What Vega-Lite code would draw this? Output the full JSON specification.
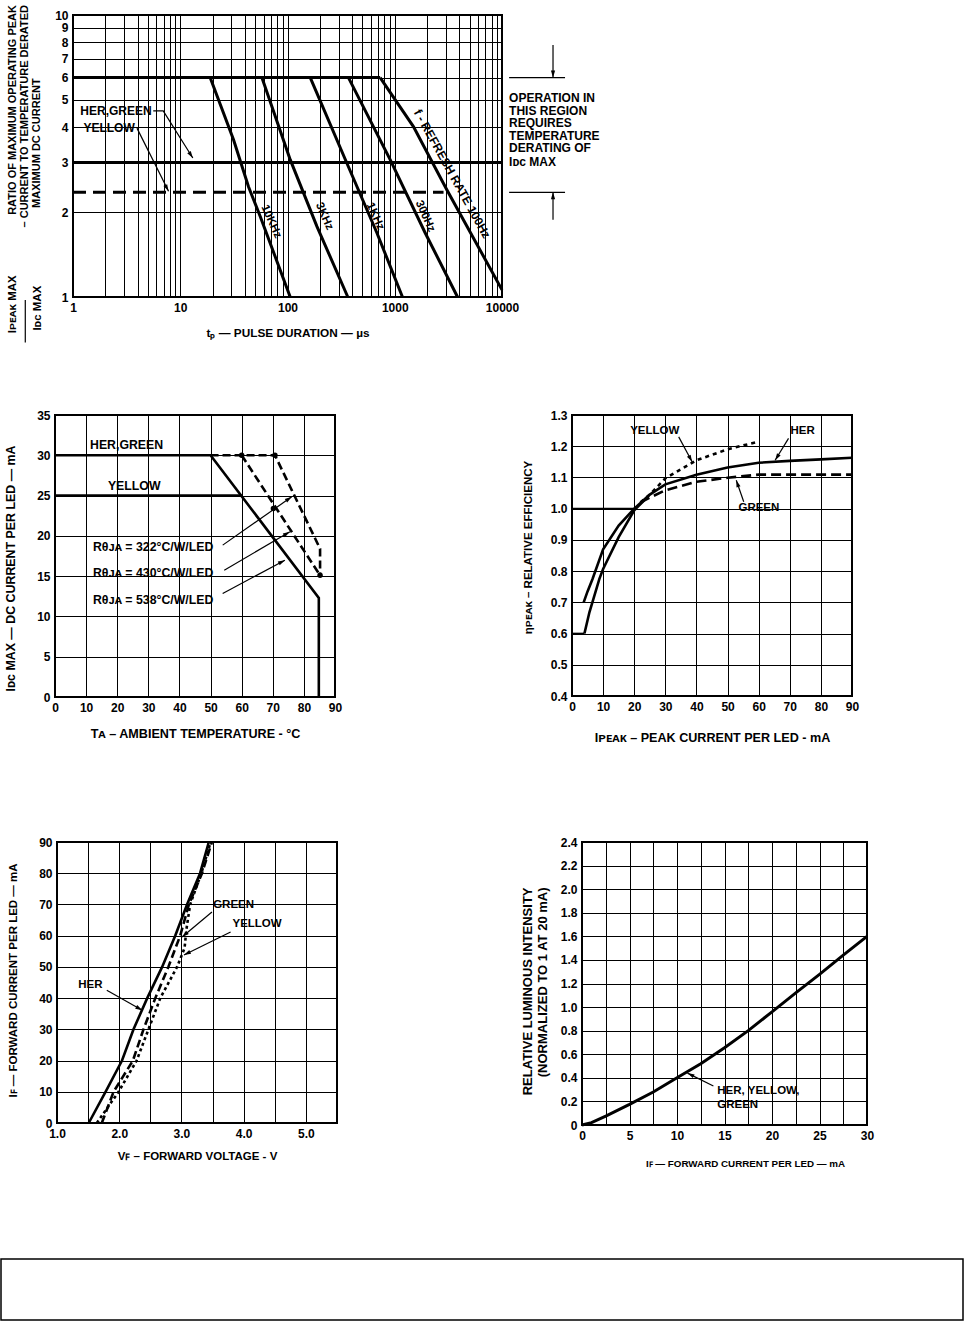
{
  "$schema": "https://vega.github.io/schema/vega-lite/v6.json",
  "background": "white",
  "padding": {"left": 0, "top": 4, "right": 0, "bottom": 0},
  "spacing": 0,
  "resolve": {"scale": {"x": "independent", "y": "independent", "shape": "independent"}},
  "datasets": {
    "top_solid": [
      {"s":"six","i":0,"x":1,"y":6},{"s":"six","i":1,"x":731,"y":6},
      {"s":"f10k","i":0,"x":19,"y":6},{"s":"f10k","i":1,"x":31.4,"y":3.61},{"s":"f10k","i":2,"x":43.3,"y":2.46},{"s":"f10k","i":3,"x":55.7,"y":1.93},{"s":"f10k","i":4,"x":106,"y":1},
      {"s":"f3k","i":0,"x":57.7,"y":6},{"s":"f3k","i":1,"x":106,"y":3.07},{"s":"f3k","i":2,"x":188,"y":1.78},{"s":"f3k","i":3,"x":365,"y":1},
      {"s":"f1k","i":0,"x":163,"y":6},{"s":"f1k","i":1,"x":358,"y":2.98},{"s":"f1k","i":2,"x":681,"y":1.69},{"s":"f1k","i":3,"x":1180,"y":1},
      {"s":"f300","i":0,"x":370,"y":6},{"s":"f300","i":1,"x":906,"y":3.07},{"s":"f300","i":2,"x":1919,"y":1.69},{"s":"f300","i":3,"x":3850,"y":1},
      {"s":"f100","i":0,"x":731,"y":6},{"s":"f100","i":1,"x":1493,"y":4.02},{"s":"f100","i":2,"x":3058,"y":2.4},{"s":"f100","i":3,"x":10000,"y":1.06},
      {"s":"hg","i":0,"x":1,"y":3},{"s":"hg","i":1,"x":10000,"y":3}
    ],
    "top_dash": [{"s":"ye","i":0,"x":1,"y":2.35},{"s":"ye","i":1,"x":2850,"y":2.35}],
    "top_ref": [{"x":11650,"x2":38700,"y":6},{"x":11650,"x2":38700,"y":2.35}],
    "top_arr": [
      {"a":"t_hg","i":0,"x":5.6,"y":4.57},{"a":"t_hg","i":1,"x":6.94,"y":4.57},{"a":"t_hg","i":2,"x":13.1,"y":3.11},
      {"a":"t_ye","i":0,"x":3.95,"y":3.97},{"a":"t_ye","i":1,"x":7.78,"y":2.37},
      {"a":"t_dn","i":0,"x":29900,"y":7.83},{"a":"t_dn","i":1,"x":29900,"y":6},
      {"a":"t_up","i":0,"x":29900,"y":1.88},{"a":"t_up","i":1,"x":29900,"y":2.35}
    ],
    "top_txt": [
      {"x":1.17,"y":4.57,"t":"HER,GREEN"},
      {"x":1.25,"y":3.98,"t":"YELLOW"},
      {"x":11650,"y":5.07,"t":"OPERATION IN"},
      {"x":11650,"y":4.57,"t":"THIS REGION"},
      {"x":11650,"y":4.15,"t":"REQUIRES"},
      {"x":11650,"y":3.73,"t":"TEMPERATURE"},
      {"x":11650,"y":3.37,"t":"DERATING OF"},
      {"x":11650,"y":3.0,"t":"Iᴅᴄ MAX"}
    ],
    "top_freq": [{"x":70.3,"y":1.85,"t":"10KHz"},{"x":220,"y":1.93,"t":"3KHz"},{"x":656,"y":1.93,"t":"1KHz"},{"x":1919,"y":1.93,"t":"300Hz"}],
    "top_rr": [{"x":3428,"y":2.734,"t":"f - REFRESH RATE 100Hz"}],
    "top_ytitle_end": [{"x":0.2778,"y":10.85,"t":"RATIO OF MAXIMUM OPERATING PEAK"},{"x":0.359,"y":10.85,"t":"– CURRENT TO TEMPERATURE DERATED"}],
    "top_ytitle_start": [{"x":0.465,"y":2.07,"t":"MAXIMUM DC CURRENT"}],
    "top_frac": [{"x":0.2778,"y":0.943,"t":"Iᴘᴇᴀᴋ MAX"},{"x":0.475,"y":0.913,"t":"Iᴅᴄ MAX"}],
    "top_bar": [{"x":0.359,"y":0.689,"y2":0.976}],
    "ml_solid": [
      {"s":"hg","i":0,"x":0,"y":30},{"s":"hg","i":1,"x":50,"y":30},{"s":"hg","i":2,"x":84.8,"y":12.3},{"s":"hg","i":3,"x":84.8,"y":0},
      {"s":"ye","i":0,"x":0,"y":25},{"s":"ye","i":1,"x":60,"y":25}
    ],
    "ml_dash": [
      {"s":"r430","i":0,"x":60,"y":30},{"s":"r430","i":1,"x":85.2,"y":15.1},
      {"s":"r322","i":0,"x":50,"y":30},{"s":"r322","i":1,"x":70.7,"y":30},{"s":"r322","i":2,"x":85.2,"y":18.4},{"s":"r322","i":3,"x":85.2,"y":15.1}
    ],
    "ml_dots": [{"x":60,"y":30},{"x":70.7,"y":30},{"x":70.2,"y":23.4},{"x":85.2,"y":15.1}],
    "ml_txt": [
      {"x":11.25,"y":31.3,"t":"HER,GREEN"},
      {"x":17,"y":26.2,"t":"YELLOW"},
      {"x":12.2,"y":18.6,"t":"Rθᴊᴀ = 322°C/W/LED"},
      {"x":12.2,"y":15.4,"t":"Rθᴊᴀ = 430°C/W/LED"},
      {"x":12.2,"y":12.0,"t":"Rθᴊᴀ = 538°C/W/LED"}
    ],
    "ml_arr": [
      {"a":"m322","i":0,"x":53.9,"y":18.85},{"a":"m322","i":1,"x":76.1,"y":24.85},
      {"a":"m430","i":0,"x":54.4,"y":15.74},{"a":"m430","i":1,"x":75.5,"y":20.5},
      {"a":"m538","i":0,"x":53.9,"y":12.84},{"a":"m538","i":1,"x":73.9,"y":16.98}
    ],
    "mr_solid": [
      {"s":"her","i":0,"x":3.75,"y":0.7},{"s":"her","i":1,"x":5,"y":0.735},{"s":"her","i":2,"x":6.6,"y":0.775},{"s":"her","i":3,"x":10,"y":0.87},{"s":"her","i":4,"x":15,"y":0.946},{"s":"her","i":5,"x":20,"y":1.0},{"s":"her","i":6,"x":25,"y":1.045},{"s":"her","i":7,"x":30,"y":1.078},{"s":"her","i":8,"x":40,"y":1.109},{"s":"her","i":9,"x":50,"y":1.132},{"s":"her","i":10,"x":60,"y":1.147},{"s":"her","i":11,"x":70,"y":1.153},{"s":"her","i":12,"x":80,"y":1.158},{"s":"her","i":13,"x":90,"y":1.163},
      {"s":"trunk","i":0,"x":4,"y":0.6},{"s":"trunk","i":1,"x":5.6,"y":0.668},{"s":"trunk","i":2,"x":8.8,"y":0.775},{"s":"trunk","i":3,"x":10,"y":0.807},{"s":"trunk","i":4,"x":15,"y":0.909},{"s":"trunk","i":5,"x":20,"y":0.995},{"s":"trunk","i":6,"x":24.6,"y":1.04}
    ],
    "mr_ref": [
      {"s":"ref1","i":0,"x":0,"y":1.0},{"s":"ref1","i":1,"x":20,"y":1.0},
      {"s":"ref06","i":0,"x":0,"y":0.6},{"s":"ref06","i":1,"x":4,"y":0.6}
    ],
    "mr_dash": [
      {"s":"green","i":0,"x":22,"y":1.02},{"s":"green","i":1,"x":25,"y":1.035},{"s":"green","i":2,"x":30,"y":1.059},{"s":"green","i":3,"x":40,"y":1.086},{"s":"green","i":4,"x":50,"y":1.099},{"s":"green","i":5,"x":60,"y":1.109},{"s":"green","i":6,"x":90,"y":1.109}
    ],
    "mr_dot": [
      {"s":"yellow","i":0,"x":22,"y":1.02},{"s":"yellow","i":1,"x":25,"y":1.045},{"s":"yellow","i":2,"x":30,"y":1.097},{"s":"yellow","i":3,"x":40,"y":1.155},{"s":"yellow","i":4,"x":50,"y":1.19},{"s":"yellow","i":5,"x":60,"y":1.215}
    ],
    "mr_txt": [{"x":18.7,"y":1.248,"t":"YELLOW"},{"x":70.2,"y":1.248,"t":"HER"},{"x":53.5,"y":1.003,"t":"GREEN"}],
    "mr_arr": [
      {"a":"r_yel","i":0,"x":34.3,"y":1.23},{"a":"r_yel","i":1,"x":38.6,"y":1.15},
      {"a":"r_her","i":0,"x":69.6,"y":1.225},{"a":"r_her","i":1,"x":65.3,"y":1.155},
      {"a":"r_grn","i":0,"x":55.2,"y":1.022},{"a":"r_grn","i":1,"x":52.8,"y":1.091}
    ],
    "bl_solid": [
      {"s":"her","i":0,"x":1.51,"y":0},{"s":"her","i":1,"x":1.78,"y":10},{"s":"her","i":2,"x":2.045,"y":20},{"s":"her","i":3,"x":2.23,"y":30},{"s":"her","i":4,"x":2.45,"y":40},{"s":"her","i":5,"x":2.69,"y":50},{"s":"her","i":6,"x":2.9,"y":60},{"s":"her","i":7,"x":3.09,"y":70},{"s":"her","i":8,"x":3.3,"y":80},{"s":"her","i":9,"x":3.44,"y":90}
    ],
    "bl_dash": [
      {"s":"green","i":0,"x":1.72,"y":0},{"s":"green","i":1,"x":1.91,"y":10},{"s":"green","i":2,"x":2.22,"y":20},{"s":"green","i":3,"x":2.39,"y":30},{"s":"green","i":4,"x":2.58,"y":40},{"s":"green","i":5,"x":2.79,"y":50},{"s":"green","i":6,"x":2.98,"y":60},{"s":"green","i":7,"x":3.12,"y":70},{"s":"green","i":8,"x":3.33,"y":80},{"s":"green","i":9,"x":3.49,"y":90}
    ],
    "bl_dot": [
      {"s":"yellow","i":0,"x":1.64,"y":0},{"s":"yellow","i":1,"x":1.99,"y":10},{"s":"yellow","i":2,"x":2.28,"y":20},{"s":"yellow","i":3,"x":2.47,"y":30},{"s":"yellow","i":4,"x":2.66,"y":40},{"s":"yellow","i":5,"x":2.93,"y":50},{"s":"yellow","i":6,"x":3.05,"y":56},{"s":"yellow","i":7,"x":3.08,"y":62},{"s":"yellow","i":8,"x":3.14,"y":70},{"s":"yellow","i":9,"x":3.32,"y":80},{"s":"yellow","i":10,"x":3.47,"y":90}
    ],
    "bl_txt": [{"x":3.51,"y":69.8,"t":"GREEN"},{"x":3.82,"y":63.7,"t":"YELLOW"},{"x":1.34,"y":44.1,"t":"HER"}],
    "bl_arr": [
      {"a":"b_grn","i":0,"x":3.49,"y":67.6},{"a":"b_grn","i":1,"x":3.01,"y":59.6},
      {"a":"b_yel","i":0,"x":3.79,"y":61.2},{"a":"b_yel","i":1,"x":3.04,"y":53.8},
      {"a":"b_her","i":0,"x":1.8,"y":42.5},{"a":"b_her","i":1,"x":2.37,"y":36.1}
    ],
    "br_solid": [
      {"s":"all","i":0,"x":0,"y":0},{"s":"all","i":1,"x":1,"y":0.02},{"s":"all","i":2,"x":2.5,"y":0.076},{"s":"all","i":3,"x":5,"y":0.175},{"s":"all","i":4,"x":7.5,"y":0.28},{"s":"all","i":5,"x":10,"y":0.4},{"s":"all","i":6,"x":12.5,"y":0.52},{"s":"all","i":7,"x":15,"y":0.655},{"s":"all","i":8,"x":17.5,"y":0.8},{"s":"all","i":9,"x":20,"y":0.96},{"s":"all","i":10,"x":22.5,"y":1.12},{"s":"all","i":11,"x":25,"y":1.277},{"s":"all","i":12,"x":27.5,"y":1.44},{"s":"all","i":13,"x":30,"y":1.6}
    ],
    "br_txt": [{"x":14.24,"y":0.288,"t":"HER, YELLOW,"},{"x":14.24,"y":0.169,"t":"GREEN"}],
    "br_arr": [{"a":"br","i":0,"x":13.83,"y":0.331},{"a":"br","i":1,"x":11.1,"y":0.44}]
  },
  "vconcat": [
    {
      "hconcat": [
        {"width": 72, "height": 393, "data": {"values": []}, "mark": "point", "encoding": {}},
        {
          "width": 429, "height": 282,
          "view": {"stroke": "black", "strokeWidth": 2},
          "layer": [
            {
              "data": {"name": "top_solid"},
              "mark": {"type": "line", "color": "black", "strokeWidth": 3},
              "encoding": {
                "x": {"field": "x", "type": "quantitative",
                  "scale": {"type": "log", "domain": [1, 10000], "nice": false},
                  "axis": {"values": [1,2,3,4,5,6,7,8,9,10,20,30,40,50,60,70,80,90,100,200,300,400,500,600,700,800,900,1000,2000,3000,4000,5000,6000,7000,8000,9000,10000],
                    "tickCount": 100,
                    "labelExpr": "datum.value == 1 || datum.value == 10 || datum.value == 100 || datum.value == 1000 || datum.value == 10000 ? format(datum.value, 'd') : ''",
                    "labelOverlap": false,
                    "title": "tₚ — PULSE DURATION — µs", "titleFontSize": 11.8, "titleY": 35, "titleBaseline": "middle"}},
                "y": {"field": "y", "type": "quantitative",
                  "scale": {"type": "log", "domain": [1, 10], "nice": false},
                  "axis": {"values": [1,2,3,4,5,6,7,8,9,10], "tickCount": 100, "format": "d", "labelOverlap": false, "title": null}},
                "detail": {"field": "s"},
                "order": {"field": "i", "type": "quantitative"}
              }
            },
            {
              "data": {"name": "top_dash"},
              "mark": {"type": "line", "color": "black", "strokeWidth": 3, "strokeDash": [13, 7]},
              "encoding": {
                "x": {"field": "x", "type": "quantitative"},
                "y": {"field": "y", "type": "quantitative"},
                "order": {"field": "i", "type": "quantitative"}
              }
            },
            {
              "data": {"name": "top_ref"},
              "mark": {"type": "rule", "color": "black", "strokeWidth": 1.2},
              "encoding": {
                "x": {"field": "x", "type": "quantitative"},
                "x2": {"field": "x2"},
                "y": {"field": "y", "type": "quantitative"}
              }
            },
            {
              "data": {"name": "top_arr"},
              "mark": {"type": "line", "color": "black", "strokeWidth": 1.2},
              "encoding": {
                "x": {"field": "x", "type": "quantitative"},
                "y": {"field": "y", "type": "quantitative"},
                "detail": {"field": "a"},
                "order": {"field": "i", "type": "quantitative"}
              }
            },
            {
              "data": {"name": "top_arr"},
              "transform": [{"joinaggregate": [{"op": "max", "field": "i", "as": "m"}], "groupby": ["a"]}, {"filter": "datum.i == datum.m"}],
              "mark": {"type": "point", "filled": true, "color": "black", "size": 49, "opacity": 1, "strokeWidth": 0},
              "encoding": {
                "x": {"field": "x", "type": "quantitative"},
                "y": {"field": "y", "type": "quantitative"},
                "shape": {"field": "a", "type": "nominal", "legend": null,
                  "scale": {"domain": ["t_hg", "t_ye", "t_dn", "t_up"],
                    "range": ["M0,0L-1.6,-1.34L-0.59,-2Z", "M0,0L-1.46,-1.49L-0.4,-2.05Z", "M0,0L-0.6,-2L0.6,-2Z", "M0,0L-0.6,2L0.6,2Z"]}}
              }
            },
            {
              "data": {"name": "top_txt"},
              "mark": {"type": "text", "align": "left", "baseline": "middle", "fontSize": 12},
              "encoding": {
                "x": {"field": "x", "type": "quantitative"},
                "y": {"field": "y", "type": "quantitative"},
                "text": {"field": "t"}
              }
            },
            {
              "data": {"name": "top_freq"},
              "mark": {"type": "text", "align": "center", "baseline": "middle", "angle": 66, "fontSize": 11.5},
              "encoding": {
                "x": {"field": "x", "type": "quantitative"},
                "y": {"field": "y", "type": "quantitative"},
                "text": {"field": "t"}
              }
            },
            {
              "data": {"name": "top_rr"},
              "mark": {"type": "text", "align": "center", "baseline": "middle", "angle": 61, "fontSize": 12},
              "encoding": {
                "x": {"field": "x", "type": "quantitative"},
                "y": {"field": "y", "type": "quantitative"},
                "text": {"field": "t"}
              }
            },
            {
              "data": {"name": "top_ytitle_end"},
              "mark": {"type": "text", "align": "right", "baseline": "middle", "angle": 270, "fontSize": 11},
              "encoding": {
                "x": {"field": "x", "type": "quantitative"},
                "y": {"field": "y", "type": "quantitative"},
                "text": {"field": "t"}
              }
            },
            {
              "data": {"name": "top_ytitle_start"},
              "mark": {"type": "text", "align": "left", "baseline": "middle", "angle": 270, "fontSize": 11},
              "encoding": {
                "x": {"field": "x", "type": "quantitative"},
                "y": {"field": "y", "type": "quantitative"},
                "text": {"field": "t"}
              }
            },
            {
              "data": {"name": "top_frac"},
              "mark": {"type": "text", "align": "center", "baseline": "middle", "angle": 270, "fontSize": 11.5},
              "encoding": {
                "x": {"field": "x", "type": "quantitative"},
                "y": {"field": "y", "type": "quantitative"},
                "text": {"field": "t"}
              }
            },
            {
              "data": {"name": "top_bar"},
              "mark": {"type": "rule", "color": "black", "strokeWidth": 1.2},
              "encoding": {
                "x": {"field": "x", "type": "quantitative"},
                "y": {"field": "y", "type": "quantitative"},
                "y2": {"field": "y2"}
              }
            }
          ]
        }
      ],
      "spacing": 0, "bounds": "flush",
      "resolve": {"scale": {"x": "independent", "y": "independent", "shape": "independent"}}
    },
    {
      "hconcat": [
        {"width": 54, "height": 420, "data": {"values": []}, "mark": "point", "encoding": {}},
        {
          "width": 280, "height": 282,
          "view": {"stroke": "black", "strokeWidth": 2},
          "layer": [
            {
              "data": {"name": "ml_solid"},
              "mark": {"type": "line", "color": "black", "strokeWidth": 2.6},
              "encoding": {
                "x": {"field": "x", "type": "quantitative", "scale": {"domain": [0, 90], "nice": false},
                  "axis": {"values": [0,10,20,30,40,50,60,70,80,90], "tickCount": 100, "format": "d", "labelOverlap": false, "title": "Tᴀ – AMBIENT TEMPERATURE - °C", "titleFontSize": 12.6, "titleY": 36, "titleBaseline": "middle"}},
                "y": {"field": "y", "type": "quantitative", "scale": {"domain": [0, 35], "nice": false},
                  "axis": {"values": [0,5,10,15,20,25,30,35], "tickCount": 100, "format": "d", "labelOverlap": false, "title": "Iᴅᴄ MAX — DC CURRENT PER LED — mA", "titleFontSize": 12.4, "titleX": -45, "titleY": 153, "titleAngle": 270, "titleAlign": "center", "titleBaseline": "middle"}},
                "detail": {"field": "s"},
                "order": {"field": "i", "type": "quantitative"}
              }
            },
            {
              "data": {"name": "ml_dash"},
              "mark": {"type": "line", "color": "black", "strokeWidth": 2.6, "strokeDash": [8, 4]},
              "encoding": {
                "x": {"field": "x", "type": "quantitative"},
                "y": {"field": "y", "type": "quantitative"},
                "detail": {"field": "s"},
                "order": {"field": "i", "type": "quantitative"}
              }
            },
            {
              "data": {"name": "ml_dots"},
              "mark": {"type": "point", "filled": true, "color": "black", "size": 30, "opacity": 1},
              "encoding": {
                "x": {"field": "x", "type": "quantitative"},
                "y": {"field": "y", "type": "quantitative"}
              }
            },
            {
              "data": {"name": "ml_txt"},
              "mark": {"type": "text", "align": "left", "baseline": "middle", "fontSize": 12.3},
              "encoding": {
                "x": {"field": "x", "type": "quantitative"},
                "y": {"field": "y", "type": "quantitative"},
                "text": {"field": "t"}
              }
            },
            {
              "data": {"name": "ml_arr"},
              "mark": {"type": "line", "color": "black", "strokeWidth": 1.2},
              "encoding": {
                "x": {"field": "x", "type": "quantitative"},
                "y": {"field": "y", "type": "quantitative"},
                "detail": {"field": "a"},
                "order": {"field": "i", "type": "quantitative"}
              }
            },
            {
              "data": {"name": "ml_arr"},
              "transform": [{"joinaggregate": [{"op": "max", "field": "i", "as": "m"}], "groupby": ["a"]}, {"filter": "datum.i == datum.m"}],
              "mark": {"type": "point", "filled": true, "color": "black", "size": 49, "opacity": 1, "strokeWidth": 0},
              "encoding": {
                "x": {"field": "x", "type": "quantitative"},
                "y": {"field": "y", "type": "quantitative"},
                "shape": {"field": "a", "type": "nominal", "legend": null,
                  "scale": {"domain": ["m322", "m430", "m538"],
                    "range": ["M0,0L-1.31,1.63L-1.99,0.64Z", "M0,0L-1.44,1.52L-2.03,0.48Z", "M0,0L-1.49,1.46L-2.05,0.4Z"]}}
              }
            }
          ]
        },
        {"width": 237, "height": 1, "data": {"values": []}, "mark": "point", "encoding": {}},
        {
          "width": 280, "height": 281,
          "view": {"stroke": "black", "strokeWidth": 2},
          "layer": [
            {
              "data": {"name": "mr_solid"},
              "mark": {"type": "line", "color": "black", "strokeWidth": 2.6},
              "encoding": {
                "x": {"field": "x", "type": "quantitative", "scale": {"domain": [0, 90], "nice": false},
                  "axis": {"values": [0,10,20,30,40,50,60,70,80,90], "tickCount": 100, "format": "d", "labelOverlap": false, "title": "Iᴘᴇᴀᴋ – PEAK CURRENT PER LED - mA", "titleFontSize": 12.6, "titleY": 41, "titleBaseline": "middle"}},
                "y": {"field": "y", "type": "quantitative", "scale": {"domain": [0.4, 1.3], "nice": false, "zero": false},
                  "axis": {"values": [0.4,0.5,0.6,0.7,0.8,0.9,1.0,1.1,1.2,1.3], "tickCount": 100, "format": ".1f", "labelOverlap": false, "title": "ηᴘᴇᴀᴋ – RELATIVE EFFICIENCY", "titleX": -44, "titleY": 132, "titleAngle": 270, "titleAlign": "center", "titleBaseline": "middle"}},
                "detail": {"field": "s"},
                "order": {"field": "i", "type": "quantitative"}
              }
            },
            {
              "data": {"name": "mr_ref"},
              "mark": {"type": "line", "color": "black", "strokeWidth": 1.8},
              "encoding": {
                "x": {"field": "x", "type": "quantitative"},
                "y": {"field": "y", "type": "quantitative"},
                "detail": {"field": "s"},
                "order": {"field": "i", "type": "quantitative"}
              }
            },
            {
              "data": {"name": "mr_dash"},
              "mark": {"type": "line", "color": "black", "strokeWidth": 2.6, "strokeDash": [10, 5]},
              "encoding": {
                "x": {"field": "x", "type": "quantitative"},
                "y": {"field": "y", "type": "quantitative"},
                "order": {"field": "i", "type": "quantitative"}
              }
            },
            {
              "data": {"name": "mr_dot"},
              "mark": {"type": "line", "color": "black", "strokeWidth": 2.6, "strokeDash": [4, 4]},
              "encoding": {
                "x": {"field": "x", "type": "quantitative"},
                "y": {"field": "y", "type": "quantitative"},
                "order": {"field": "i", "type": "quantitative"}
              }
            },
            {
              "data": {"name": "mr_txt"},
              "mark": {"type": "text", "align": "left", "baseline": "middle"},
              "encoding": {
                "x": {"field": "x", "type": "quantitative"},
                "y": {"field": "y", "type": "quantitative"},
                "text": {"field": "t"}
              }
            },
            {
              "data": {"name": "mr_arr"},
              "mark": {"type": "line", "color": "black", "strokeWidth": 1.2},
              "encoding": {
                "x": {"field": "x", "type": "quantitative"},
                "y": {"field": "y", "type": "quantitative"},
                "detail": {"field": "a"},
                "order": {"field": "i", "type": "quantitative"}
              }
            },
            {
              "data": {"name": "mr_arr"},
              "transform": [{"joinaggregate": [{"op": "max", "field": "i", "as": "m"}], "groupby": ["a"]}, {"filter": "datum.i == datum.m"}],
              "mark": {"type": "point", "filled": true, "color": "black", "size": 49, "opacity": 1, "strokeWidth": 0},
              "encoding": {
                "x": {"field": "x", "type": "quantitative"},
                "y": {"field": "y", "type": "quantitative"},
                "shape": {"field": "a", "type": "nominal", "legend": null,
                  "scale": {"domain": ["r_yel", "r_her", "r_grn"],
                    "range": ["M0,0L-1.47,-1.48L-0.42,-2.04Z", "M0,0L0.53,-2.02L1.56,-1.39Z", "M0,0L1.21,1.7L0.07,2.09Z"]}}
              }
            }
          ]
        }
      ],
      "spacing": 0, "bounds": "flush",
      "resolve": {"scale": {"x": "independent", "y": "independent", "shape": "independent"}}
    },
    {
      "hconcat": [
        {"width": 56, "height": 416, "data": {"values": []}, "mark": "point", "encoding": {}},
        {
          "width": 280, "height": 281,
          "view": {"stroke": "black", "strokeWidth": 2},
          "layer": [
            {
              "data": {"name": "bl_solid"},
              "mark": {"type": "line", "color": "black", "strokeWidth": 2.6},
              "encoding": {
                "x": {"field": "x", "type": "quantitative", "scale": {"domain": [1, 5.5], "nice": false, "zero": false},
                  "axis": {"values": [1,1.5,2,2.5,3,3.5,4,4.5,5,5.5], "tickCount": 100, "labelOverlap": false, "labelExpr": "datum.value % 1 == 0 && datum.value < 5.5 ? format(datum.value, '.1f') : ''", "title": "Vꜰ – FORWARD VOLTAGE - V", "titleY": 33, "titleBaseline": "middle"}},
                "y": {"field": "y", "type": "quantitative", "scale": {"domain": [0, 90], "nice": false},
                  "axis": {"values": [0,10,20,30,40,50,60,70,80,90], "tickCount": 100, "format": "d", "labelOverlap": false, "title": "Iꜰ — FORWARD CURRENT PER LED — mA", "titleX": -44, "titleY": 138, "titleAngle": 270, "titleAlign": "center", "titleBaseline": "middle"}},
                "order": {"field": "i", "type": "quantitative"}
              }
            },
            {
              "data": {"name": "bl_dash"},
              "mark": {"type": "line", "color": "black", "strokeWidth": 2.6, "strokeDash": [8, 4]},
              "encoding": {
                "x": {"field": "x", "type": "quantitative"},
                "y": {"field": "y", "type": "quantitative"},
                "order": {"field": "i", "type": "quantitative"}
              }
            },
            {
              "data": {"name": "bl_dot"},
              "mark": {"type": "line", "color": "black", "strokeWidth": 2.6, "strokeDash": [3, 3]},
              "encoding": {
                "x": {"field": "x", "type": "quantitative"},
                "y": {"field": "y", "type": "quantitative"},
                "order": {"field": "i", "type": "quantitative"}
              }
            },
            {
              "data": {"name": "bl_txt"},
              "mark": {"type": "text", "align": "left", "baseline": "middle"},
              "encoding": {
                "x": {"field": "x", "type": "quantitative"},
                "y": {"field": "y", "type": "quantitative"},
                "text": {"field": "t"}
              }
            },
            {
              "data": {"name": "bl_arr"},
              "mark": {"type": "line", "color": "black", "strokeWidth": 1.2},
              "encoding": {
                "x": {"field": "x", "type": "quantitative"},
                "y": {"field": "y", "type": "quantitative"},
                "detail": {"field": "a"},
                "order": {"field": "i", "type": "quantitative"}
              }
            },
            {
              "data": {"name": "bl_arr"},
              "transform": [{"joinaggregate": [{"op": "max", "field": "i", "as": "m"}], "groupby": ["a"]}, {"filter": "datum.i == datum.m"}],
              "mark": {"type": "point", "filled": true, "color": "black", "size": 49, "opacity": 1, "strokeWidth": 0},
              "encoding": {
                "x": {"field": "x", "type": "quantitative"},
                "y": {"field": "y", "type": "quantitative"},
                "shape": {"field": "a", "type": "nominal", "legend": null,
                  "scale": {"domain": ["b_grn", "b_yel", "b_her"],
                    "range": ["M0,0L1.15,-1.74L1.92,-0.82Z", "M0,0L1.52,-1.43L2.06,-0.36Z", "M0,0L-2.03,-0.47L-1.44,-1.51Z"]}}
              }
            }
          ]
        },
        {"width": 245, "height": 1, "data": {"values": []}, "mark": "point", "encoding": {}},
        {
          "width": 285, "height": 283,
          "view": {"stroke": "black", "strokeWidth": 2},
          "layer": [
            {
              "data": {"name": "br_solid"},
              "mark": {"type": "line", "color": "black", "strokeWidth": 3},
              "encoding": {
                "x": {"field": "x", "type": "quantitative", "scale": {"domain": [0, 30], "nice": false},
                  "axis": {"values": [0,2.5,5,7.5,10,12.5,15,17.5,20,22.5,25,27.5,30], "tickCount": 100, "labelOverlap": false, "labelExpr": "datum.value % 5 == 0 ? format(datum.value, 'd') : ''", "title": "Iꜰ — FORWARD CURRENT PER LED — mA", "titleFontSize": 9.8, "titleX": 163, "titleY": 38, "titleBaseline": "middle"}},
                "y": {"field": "y", "type": "quantitative", "scale": {"domain": [0, 2.4], "nice": false},
                  "axis": {"values": [0,0.2,0.4,0.6,0.8,1.0,1.2,1.4,1.6,1.8,2.0,2.2,2.4], "tickCount": 100, "labelOverlap": false, "labelExpr": "datum.value == 0 ? '0' : format(datum.value, '.1f')",
                    "title": ["RELATIVE LUMINOUS INTENSITY", "(NORMALIZED TO 1 AT 20 mA)"], "titleFontSize": 13, "titleX": -55, "titleY": 45, "titleAngle": 270, "titleAlign": "right", "titleBaseline": "middle", "titleLineHeight": 15}},
                "order": {"field": "i", "type": "quantitative"}
              }
            },
            {
              "data": {"name": "br_txt"},
              "mark": {"type": "text", "align": "left", "baseline": "middle"},
              "encoding": {
                "x": {"field": "x", "type": "quantitative"},
                "y": {"field": "y", "type": "quantitative"},
                "text": {"field": "t"}
              }
            },
            {
              "data": {"name": "br_arr"},
              "mark": {"type": "line", "color": "black", "strokeWidth": 1.2},
              "encoding": {
                "x": {"field": "x", "type": "quantitative"},
                "y": {"field": "y", "type": "quantitative"},
                "detail": {"field": "a"},
                "order": {"field": "i", "type": "quantitative"}
              }
            },
            {
              "data": {"name": "br_arr"},
              "transform": [{"joinaggregate": [{"op": "max", "field": "i", "as": "m"}], "groupby": ["a"]}, {"filter": "datum.i == datum.m"}],
              "mark": {"type": "point", "filled": true, "color": "black", "size": 49, "opacity": 1, "strokeWidth": 0},
              "encoding": {
                "x": {"field": "x", "type": "quantitative"},
                "y": {"field": "y", "type": "quantitative"},
                "shape": {"field": "a", "type": "nominal", "legend": null,
                  "scale": {"domain": ["br"], "range": ["M0,0L2.06,0.36L1.52,1.43Z"]}}
              }
            }
          ]
        }
      ],
      "spacing": 0, "bounds": "flush",
      "resolve": {"scale": {"x": "independent", "y": "independent", "shape": "independent"}}
    },
    {"width": 962, "height": 61, "view": {"stroke": "black", "strokeWidth": 1.5}, "data": {"values": []}, "mark": "point", "encoding": {}}
  ],
  "config": {
    "view": {"stroke": null},
    "font": "Liberation Sans",
    "axis": {
      "labelFont": "Liberation Sans", "labelFontWeight": "bold", "labelFontSize": 12, "labelColor": "#000",
      "titleFont": "Liberation Sans", "titleFontWeight": "bold", "titleFontSize": 11.5, "titleColor": "#000",
      "grid": true, "gridColor": "#000", "gridOpacity": 1, "gridWidth": 1,
      "domain": false, "ticks": false, "labelPadding": 5, "labelFlush": false, "labelOverlap": false
    },
    "text": {"font": "Liberation Sans", "fontWeight": "bold", "fontSize": 11.5, "color": "#000"}
  }
}
